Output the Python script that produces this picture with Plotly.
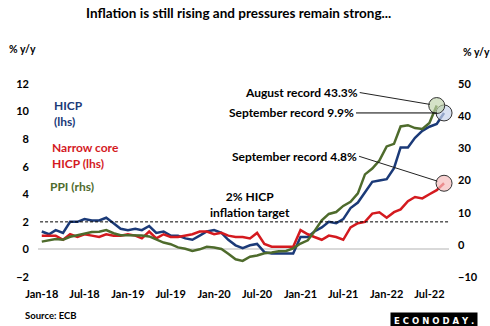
import pandas as pd
import plotly.graph_objects as go

months = pd.date_range("2018-01-01", "2022-09-01", freq="MS")

hicp = [1.3, 1.1, 1.4, 1.2, 2.0, 2.0, 2.2, 2.1, 2.1, 2.3, 1.9, 1.5,
        1.4, 1.5, 1.4, 1.7, 1.2, 1.3, 1.0, 1.0, 0.8, 0.7, 1.0, 1.3,
        1.4, 1.2, 0.7, 0.3, 0.1, 0.3, 0.4, -0.2, -0.3, -0.3, -0.3, -0.3,
        0.9, 0.9, 1.3, 1.6, 2.0, 1.9, 2.2, 3.0, 3.4, 4.1, 4.9, 5.0,
        5.1, 5.9, 7.4, 7.4, 8.1, 8.6, 8.9, 9.1, 9.9]

core = [1.0, 1.0, 1.0, 0.7, 1.1, 0.9, 1.1, 1.0, 0.9, 1.1, 1.0, 1.0,
        1.1, 1.0, 0.8, 1.3, 0.8, 1.1, 0.9, 0.9, 1.0, 1.1, 1.3, 1.3,
        1.1, 1.2, 1.0, 0.9, 0.9, 0.8, 1.2, 0.4, 0.2, 0.2, 0.2, 0.2,
        1.4, 1.1, 0.9, 0.7, 1.0, 0.9, 0.7, 1.6, 1.9, 2.0, 2.6, 2.7,
        2.3, 2.7, 2.9, 3.5, 3.8, 3.7, 4.0, 4.3, 4.8]

ppi = [1.0, 1.5, 1.8, 1.6, 2.5, 3.0, 3.6, 4.0, 4.1, 4.6, 3.6, 3.0,
       3.0, 3.0, 2.9, 2.6, 1.6, 0.7, 0.2, -0.8, -1.2, -1.9, -1.4, -0.6,
       -0.8, -1.3, -2.8, -4.5, -5.0, -3.7, -3.3, -2.6, -2.4, -2.0, -1.9, -1.1,
       0.4, 1.4, 4.2, 7.6, 9.6, 10.2, 12.1, 13.4, 16.0, 21.9, 23.7, 26.2,
       30.6, 31.4, 36.8, 37.2, 36.3, 36.0, 37.9, 43.3]

tick_dates = pd.date_range("2018-01-01", "2022-07-01", freq="6MS")
tick_text = [d.strftime("%b-%y") for d in tick_dates]

left_ticks = [-2, 0, 2, 4, 6, 8, 10, 12]
right_ticks = [-10, 0, 10, 20, 30, 40, 50]

BLUE = "#1b3a78"
RED = "#d41a1f"
GREEN = "#4e6b2c"
FONT = "Lato"

fig = go.Figure()
fig.add_trace(go.Scatter(x=months, y=hicp, mode="lines", line=dict(color=BLUE, width=2.5), yaxis="y"))
fig.add_trace(go.Scatter(x=months, y=core, mode="lines", line=dict(color=RED, width=2.5), yaxis="y"))
fig.add_trace(go.Scatter(x=months[:len(ppi)], y=ppi, mode="lines", line=dict(color=GREEN, width=2.5), yaxis="y2"))

# highlight circles
fig.add_trace(go.Scatter(x=[months[len(ppi) - 1]], y=[ppi[-1]], yaxis="y2", mode="markers",
                         marker=dict(size=16, color="rgba(190,210,170,0.65)", line=dict(color="#333333", width=1)),
                         cliponaxis=False))
fig.add_trace(go.Scatter(x=[months[-1]], y=[hicp[-1]], yaxis="y", mode="markers",
                         marker=dict(size=16, color="rgba(200,212,235,0.7)", line=dict(color="#333333", width=1)),
                         cliponaxis=False))
fig.add_trace(go.Scatter(x=[months[-1]], y=[core[-1]], yaxis="y", mode="markers",
                         marker=dict(size=16, color="rgba(245,190,190,0.7)", line=dict(color="#333333", width=1)),
                         cliponaxis=False))
fig.add_trace(go.Scatter(x=[months[-1]], y=[51.2], yaxis="y2", mode="markers",
                         marker=dict(size=13, color="#dcdfee"), cliponaxis=False))

fig.add_shape(type="line", xref="paper", x0=0.005, x1=1, yref="y", y0=2, y1=2,
              line=dict(color="black", width=1, dash="3px,2px"))

annotations = [
    dict(text="<b>Inflation is still rising and pressures remain strong...</b>", xref="paper", yref="paper",
         x=0.488, y=1.0, yanchor="bottom", yshift=61, showarrow=False, font=dict(size=13.5, color="black")),
    dict(text="<b>% y/y</b>", xref="paper", yref="paper", x=-0.075, y=1, yanchor="bottom", xanchor="left",
         yshift=27, showarrow=False, font=dict(size=10.5)),
    dict(text="<b>% y/y</b>", xref="paper", yref="paper", x=1.03, y=1, yanchor="bottom", xanchor="left",
         yshift=24, showarrow=False, font=dict(size=10.5)),
    dict(text="<b>HICP<br>(lhs)</b>", xref="paper", yref="paper", x=0.035, y=0.94, xanchor="left", yanchor="top",
         showarrow=False, align="left", font=dict(size=12, color=BLUE)),
    dict(text="<b>Narrow core<br>HICP (lhs)</b>", xref="paper", yref="paper", x=0.028, y=0.72, xanchor="left",
         yanchor="top", showarrow=False, align="left", font=dict(size=12, color=RED)),
    dict(text="<b>PPI (rhs)</b>", xref="paper", yref="paper", x=0.025, y=0.52, xanchor="left", yanchor="top",
         showarrow=False, align="left", font=dict(size=12, color=GREEN)),
    dict(text="<b>2% HICP<br>inflation target</b>", xref="paper", yref="y", x=0.515, y=2, yanchor="bottom",
         showarrow=False, align="center", font=dict(size=12)),
    dict(text="<b>August record 43.3%</b>", x=months[len(ppi) - 1], y=ppi[-1], yref="y2", ax=-77, ay=-13,
         xanchor="right", showarrow=True, arrowhead=0, arrowwidth=1, arrowcolor="#222222", standoff=7,
         font=dict(size=12)),
    dict(text="<b>September record 9.9%</b>", x=months[-1], y=hicp[-1], yref="y", ax=-88, ay=0,
         xanchor="right", showarrow=True, arrowhead=0, arrowwidth=1, arrowcolor="#000000", standoff=7,
         font=dict(size=12)),
    dict(text="<b>September record 4.8%</b>", x=months[-1], y=core[-1], yref="y", ax=-85, ay=-27,
         xanchor="right", showarrow=True, arrowhead=0, arrowwidth=1, arrowcolor="#222222", standoff=7,
         font=dict(size=12)),
    dict(text="<b>Source: ECB</b>", xref="paper", yref="paper", x=-0.037, y=0, yanchor="top", xanchor="left",
         yshift=-31, showarrow=False, font=dict(size=9.5)),
    dict(text="<b>E C O N O D A Y .</b>", xref="paper", yref="paper", x=1.07, y=0, yanchor="top",
         xanchor="right", yshift=-35, showarrow=False, bgcolor="black", borderpad=3,
         font=dict(size=8.5, color="white", family="DejaVu Sans")),
]

fig.update_layout(
    width=490, height=326,
    margin=dict(l=38, r=30, t=84, b=49),
    paper_bgcolor="white", plot_bgcolor="white",
    showlegend=False,
    font=dict(family=FONT, color="black"),
    xaxis=dict(range=["2017-12-16", "2022-09-22"], tickvals=tick_dates, ticktext=tick_text,
               showgrid=False, zeroline=False, showline=False, ticks="", ticklabelstandoff=9,
               tickfont=dict(size=11, family=FONT, weight="bold")),
    yaxis=dict(range=[-2, 12], tickvals=left_ticks, showgrid=False, zeroline=True,
               zerolinecolor="#d9d9d9", zerolinewidth=1.5, ticks="", ticklabelstandoff=8,
               tickfont=dict(size=11, family=FONT, weight="bold")),
    yaxis2=dict(range=[-10, 50], tickvals=right_ticks, overlaying="y", side="right", showgrid=False,
                zeroline=False, ticks="", ticklabelstandoff=8,
                tickfont=dict(size=11, family=FONT, weight="bold")),
    annotations=annotations,
)

fig.write_html("out.html")
